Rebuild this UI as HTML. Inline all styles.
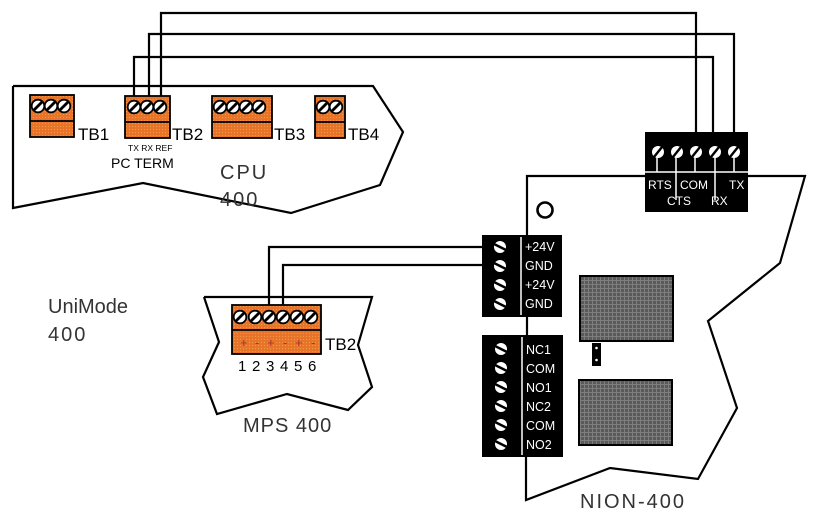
<!DOCTYPE html>
<html><head><meta charset="utf-8"><style>
html,body{margin:0;padding:0;background:#fff;}
svg{display:block}
text{font-family:"Liberation Sans",sans-serif;}
.lbl{font-family:"DejaVu Sans","Liberation Sans",sans-serif;fill:#333;font-weight:300}
</style></head><body>
<svg width="818" height="522" viewBox="0 0 818 522" xmlns="http://www.w3.org/2000/svg">
<defs>
<pattern id="dots" width="3" height="3" patternUnits="userSpaceOnUse"><rect width="3" height="3" fill="#e8742a"/><rect width="1" height="1" fill="#f09a4a"/></pattern>
<pattern id="grid" width="4" height="4" patternUnits="userSpaceOnUse"><rect width="4" height="4" fill="#5a5a5a"/><rect width="1" height="4" fill="#7e7e7e"/><rect width="4" height="1" fill="#7e7e7e"/></pattern>
<g id="sw"><circle r="6.3" fill="#fff" stroke="#000" stroke-width="1.8"/><line x1="-4" y1="4" x2="4" y2="-4" stroke="#000" stroke-width="2.8"/></g>
<g id="sb"><ellipse rx="6" ry="6" fill="#fff"/><line x1="-6" y1="-3" x2="6" y2="3" stroke="#000" stroke-width="2.4"/></g>
<g id="sn"><circle r="6" fill="#fff"/><line x1="-4" y1="5" x2="4" y2="-5" stroke="#000" stroke-width="2.4"/></g>
</defs>
<g fill="none" stroke="#000" stroke-width="2.2">
<polyline points="13,86 373,86 403,132 380,185 291,213 143,183 13,208 13,86"/>
<polyline points="161,97 161,13 696,13 696,150"/>
<polyline points="149,97 149,34 734,34 734,150"/>
<polyline points="134,97 134,57 713,57 713,150"/>
<polyline points="645,176 527,176 527,236"/>
<polyline points="748,176 805,176 780,263 708,321 737,408 698,479 610,468 526,500 526,456"/>
<line x1="527" y1="316" x2="527" y2="336"/>
<circle cx="545" cy="210" r="7.5" stroke-width="2.6"/>
<polyline points="204,297 372,297 358,345 372,387 348,410 287,394 217,414 203,377 219,342 204,297"/>
<polyline points="482,247 269,247 269,305"/>
<polyline points="482,265 283,265 283,305"/>
</g>
<g stroke="#000" stroke-width="1.8" fill="url(#dots)">
<rect x="30" y="95" width="44" height="42"/><line x1="30" y1="121" x2="74" y2="121"/>
<rect x="125" y="96" width="45" height="42"/><line x1="125" y1="122" x2="170" y2="122"/>
<rect x="212" y="96" width="60" height="42"/><line x1="212" y1="122" x2="272" y2="122"/>
<rect x="315" y="96" width="30" height="42"/><line x1="315" y1="122" x2="345" y2="122"/>
<rect x="232" y="305" width="89" height="49"/><line x1="232" y1="330" x2="321" y2="330"/>
</g>
<g>
<use href="#sw" x="38" y="106"/><use href="#sw" x="51" y="106"/><use href="#sw" x="64" y="106"/>
<use href="#sw" x="134" y="107"/><use href="#sw" x="147" y="107"/><use href="#sw" x="160" y="107"/>
<use href="#sw" x="220" y="107"/><use href="#sw" x="233" y="107"/><use href="#sw" x="246" y="107"/><use href="#sw" x="259" y="107"/>
<use href="#sw" x="323" y="107"/><use href="#sw" x="336" y="107"/>
<use href="#sw" x="240" y="317"/><use href="#sw" x="255" y="317"/><use href="#sw" x="269" y="317"/><use href="#sw" x="283" y="317"/><use href="#sw" x="297" y="317"/><use href="#sw" x="311" y="317"/>
</g>
<g font-size="17" fill="#000">
<text x="78" y="140">TB1</text><text x="172" y="140">TB2</text><text x="274" y="140">TB3</text><text x="348" y="140">TB4</text>
<text x="325" y="350">TB2</text>
</g>
<text x="128" y="151" font-size="8.5" fill="#000">TX RX REF</text>
<text x="111" y="168" font-size="14" fill="#000">PC TERM</text>
<g font-size="13" fill="#a33">
<text x="240" y="347">+</text><text x="255" y="347">-</text><text x="267" y="347">+</text><text x="283" y="347">-</text><text x="295" y="347">+</text><text x="311" y="347">-</text>
</g>
<g font-size="15" fill="#000">
<text x="238" y="371">1</text><text x="252" y="371">2</text><text x="266" y="371">3</text><text x="280" y="371">4</text><text x="294" y="371">5</text><text x="308" y="371">6</text>
</g>
<g class="lbl" font-size="20">
<text x="220" y="179" letter-spacing="2">CPU</text><text x="220" y="206" letter-spacing="2">400</text>
<text x="48" y="313">UniMode</text><text x="48" y="341" letter-spacing="2">400</text>
<text x="243" y="432" letter-spacing="1">MPS  400</text>
<text x="580" y="508" letter-spacing="2">NION-400</text>
</g>
<rect x="645" y="132" width="103" height="80" fill="#000"/>
<g stroke="#fff" stroke-width="1.5">
<line x1="645" y1="172" x2="748" y2="172"/>
<line x1="657" y1="155" x2="657" y2="172"/><line x1="676" y1="155" x2="676" y2="200"/><line x1="695" y1="155" x2="695" y2="172"/><line x1="715" y1="155" x2="715" y2="200"/><line x1="734" y1="155" x2="734" y2="172"/>
</g>
<use href="#sn" x="658" y="152"/><use href="#sn" x="677" y="152"/><use href="#sn" x="696" y="152"/><use href="#sn" x="715" y="152"/><use href="#sn" x="734" y="152"/>
<g fill="#fff" font-size="12">
<text x="648" y="189">RTS</text><text x="680" y="189">COM</text><text x="729" y="189">TX</text>
<text x="667" y="205">CTS</text><text x="711" y="205">RX</text>
</g>
<rect x="482" y="235" width="80" height="82" fill="#000"/>
<line x1="521" y1="237" x2="521" y2="315" stroke="#fff" stroke-width="1.5"/>
<use href="#sb" x="500" y="247"/><use href="#sb" x="500" y="266"/><use href="#sb" x="500" y="285"/><use href="#sb" x="500" y="304"/>
<g fill="#fff" font-size="12.5">
<text x="525" y="251">+24V</text><text x="525" y="270">GND</text><text x="525" y="289">+24V</text><text x="525" y="308">GND</text>
</g>
<rect x="482" y="335" width="81" height="122" fill="#000"/>
<line x1="522" y1="337" x2="522" y2="455" stroke="#fff" stroke-width="1.5"/>
<use href="#sb" x="501" y="349"/><use href="#sb" x="501" y="368"/><use href="#sb" x="501" y="387"/><use href="#sb" x="501" y="406"/><use href="#sb" x="501" y="425"/><use href="#sb" x="501" y="444"/>
<g fill="#fff" font-size="12.5">
<text x="526" y="354">NC1</text><text x="526" y="373">COM</text><text x="526" y="392">NO1</text><text x="526" y="411">NC2</text><text x="526" y="430">COM</text><text x="526" y="449">NO2</text>
</g>
<rect x="580" y="276" width="93" height="65" fill="url(#grid)" stroke="#000" stroke-width="2"/>
<rect x="579" y="380" width="93" height="65" fill="url(#grid)" stroke="#000" stroke-width="2"/>
<rect x="592" y="343" width="9" height="23" fill="#000"/>
<circle cx="596.5" cy="348" r="1.3" fill="#fff"/><circle cx="596.5" cy="360" r="1.3" fill="#fff"/>
</svg>
</body></html>
